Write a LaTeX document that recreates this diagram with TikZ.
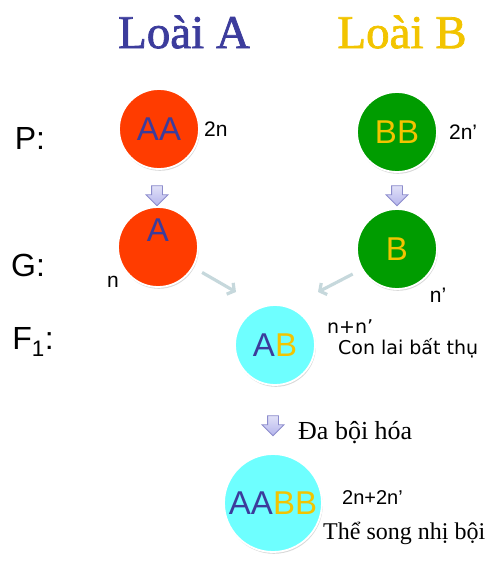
\documentclass[tikz,border=0pt]{standalone}
\usepackage{fontspec}
\setmainfont{Liberation Serif}
\setsansfont{Liberation Sans}
\newfontfamily\widesans{DejaVu Sans}
\newfontfamily\titlefont[FakeBold=1.6]{Liberation Serif}
\usetikzlibrary{positioning, arrows.meta, shapes.arrows, shadows}

\definecolor{redA}{HTML}{FF3C00}
\definecolor{greenB}{HTML}{009C00}
\definecolor{cyanF}{HTML}{6EFFFF}
\definecolor{blueA}{HTML}{3C3C9C}
\definecolor{goldB}{HTML}{F2C400}
\definecolor{feedgray}{HTML}{C6D8DC}
\definecolor{lavender}{HTML}{B4B4EC}
\definecolor{lavenderline}{HTML}{8C8CCC}

\begin{document}
\begin{tikzpicture}[x=1pt, y=-1pt,
    cell/.style={circle, draw=white, line width=1.8pt, inner sep=0pt, minimum size=80pt,
        drop shadow={opacity=0.3, shadow xshift=0.8pt, shadow yshift=-1.8pt},
        font=\sffamily\fontsize{33}{33}\selectfont},
    title/.style={font=\titlefont\fontsize{47}{50}\selectfont, inner sep=0pt},
    rowlabel/.style={font=\sffamily\fontsize{32}{34}\selectfont, inner sep=0pt},
    side/.style={font=\sffamily\fontsize{21}{22}\selectfont, inner sep=0pt},
    note/.style={font=\widesans\fontsize{19}{20}\selectfont, inner sep=0pt},
    downarrow/.style={single arrow, shape border rotate=270, draw=lavenderline, line width=0.8pt,
        top color=lavender!40, bottom color=lavender, inner sep=5pt,
        single arrow head extend=5.5pt, minimum height=20pt},
    feed/.style={draw=feedgray, line width=3.2pt, -{Straight Barb[length=5pt, width=13pt]}}
]

\useasboundingbox (0,0) rectangle (498,563);

% Species titles
\node[title, text=blueA] (tA) at (184,32) {Loài A};
\node[title, text=goldB] (tB) at (402,32) {Loài B};

% Row labels
\node[rowlabel] (lP) at (30,138) {P:};
\node[rowlabel] (lG) at (28,265) {G:};
\node[rowlabel] (lF) at (33,342) {F\textsubscript{1}:};

% Parents
\node[cell, fill=redA, text=blueA] (pA) at (159,129) {AA};
\node[cell, fill=greenB, text=goldB] (pB) at (397,132) {BB};
\node[side, right=4pt of pA] (npA) {2n};
\node[side, right=11pt of pB] (npB) {2n’};

\node[downarrow] (aA) at (157,193) {};
\node[downarrow] (aB) at (397,193) {};

% Gametes
\node[cell, fill=redA] (gA) at (158,247) {};
\node[font=\sffamily\fontsize{33}{33}\selectfont, text=blueA] (gAtext) at (158,230) {A};
\node[cell, fill=greenB, text=goldB] (gB) at (397,249) {B};
\node[side] (ngA) at (113,282) {n};
\node[side] (ngB) at (438,295) {n’};

% F1 hybrid
\node[cell, fill=cyanF] (f1) at (275,345) {\textcolor{blueA}{A}\textcolor{goldB}{B}};
\coordinate (inA) at (236,292);
\coordinate (inB) at (318,292);
\draw[feed, shorten <=10pt] (gA.-30) -- (inA);
\draw[feed, shorten <=10pt] (gB.210) -- (inB);
\node[note, anchor=west] (nf1) at (327,327) {n+n’};
\node[note, anchor=west] (sterile) at (338,348) {Con lai bất thụ};

% Polyploidization
\node[downarrow] (aF) at (273,423) {};
\node[font=\fontsize{26}{28}\selectfont, inner sep=0pt, anchor=west] (poly) at (298,433) {Đa bội hóa};

% Allopolyploid
\node[cell, fill=cyanF, minimum size=98pt] (aabb) at (273,503) {\textcolor{blueA}{AA}\textcolor{goldB}{BB}};
\node[side, font=\sffamily\fontsize{20}{21}\selectfont, anchor=west] (naabb) at (342,498) {2n+2n’};
\node[font=\fontsize{24}{26}\selectfont, inner sep=0pt, anchor=west] (allo) at (323,533) {Thể song nhị bội};

\end{tikzpicture}
\end{document}
